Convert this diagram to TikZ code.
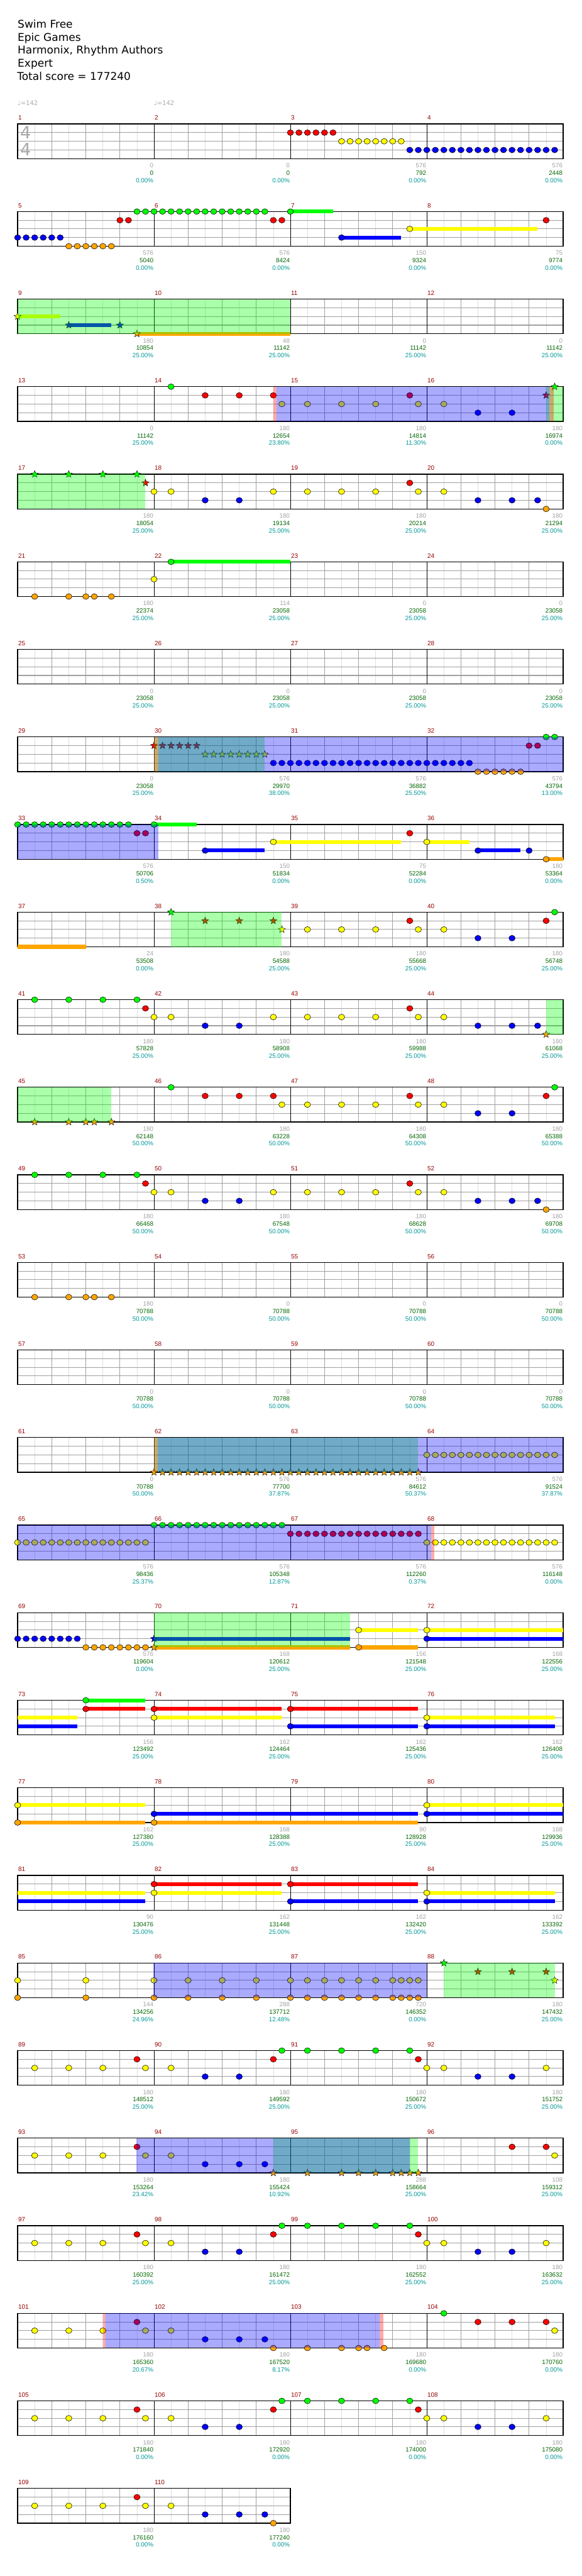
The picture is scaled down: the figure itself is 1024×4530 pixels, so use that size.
\documentclass[tikz,border=0pt]{standalone}
\usepackage{fontspec}
\setmainfont{DejaVu Sans}
\newfontfamily\smallfont{Liberation Sans}
\usetikzlibrary{shapes.geometric}

% lane colours: green, red, yellow, blue, orange
\definecolor{lane0}{RGB}{0,255,0}
\definecolor{lane1}{RGB}{255,0,0}
\definecolor{lane2}{RGB}{255,255,0}
\definecolor{lane3}{RGB}{0,0,255}
\definecolor{lane4}{RGB}{255,165,0}
\definecolor{gridgray}{RGB}{160,160,160}
\definecolor{gridlight}{RGB}{222,222,222}
\definecolor{barred}{RGB}{150,0,0}
\definecolor{statgray}{RGB}{160,160,160}
\definecolor{statgreen}{RGB}{0,100,0}
\definecolor{statteal}{RGB}{0,150,150}
\definecolor{tempogray}{RGB}{170,170,170}

\tikzset{
  halfline/.style={draw=gridlight, line width=0.8pt},
  beatline/.style={draw=gridgray, line width=0.9pt},
  laneline/.style={draw=gridgray, line width=1.2pt},
  barline/.style={draw=black, line width=0.8pt},
  staffbox/.style={draw=black, line width=1.4pt},
  notehead/.style={draw=black, line width=0.6pt},
  starhead/.style={star, star points=5, star point ratio=2.3, minimum size=13pt,
    inner sep=0pt, draw=black, line width=0.5pt},
  sustain/.style={line width=6.7pt},
  odfill/.style={fill=lane0, fill opacity=0.333},
  solofill/.style={fill=lane3, fill opacity=0.333},
  redfill/.style={fill=lane1, fill opacity=0.333},
  barnum/.style={font=\smallfont\fontsize{11}{13}\selectfont, text=barred,
    anchor=base west, inner sep=0pt, xshift=1pt, yshift=7pt},
  stat/.style={font=\smallfont\fontsize{10.8}{13}\selectfont, anchor=base east,
    inner sep=0pt, xshift=-1pt},
  titletext/.style={font=\fontsize{18.8}{23}\selectfont, anchor=base west, inner sep=0pt},
  tempo/.style={font=\fontsize{11}{13}\selectfont, text=tempogray, anchor=base west, inner sep=0pt},
  timesig/.style={font=\fontsize{30}{32}\selectfont, text=tempogray, inner sep=0pt},
}

% notes: position in sixteenths, lane 0..4
\newcommand\hit[2]{\draw[notehead, fill=lane#2] (#1,#2) ellipse[x radius=5.5pt, y radius=5pt];}
\newcommand\hits[2]{\foreach \q in {#1} {\hit{\q}{#2}}}
\newcommand\starhit[2]{\node[starhead, fill=lane#2] (st#1-#2) at (#1,#2) {};}
\newcommand\starhits[2]{\foreach \q in {#1} {\starhit{\q}{#2}}}
\newcommand\hold[3]{\draw[sustain, lane#3] (#1,#3) -- (#2,#3);}
\newcommand\holdhit[3]{\hold{#1}{#2}{#3}\hit{#1}{#3}}
\newcommand\holdstar[3]{\hold{#1}{#2}{#3}\starhit{#1}{#3}}
\newcommand\odzone[2]{\fill[odfill] (#1,0) rectangle (#2,4);}
\newcommand\solozone[2]{\fill[solofill] (#1,0) rectangle (#2,4);}
\newcommand\redzone[2]{\fill[redfill] (#1,0) rectangle (#2,4);}

% one line of the chart: row, measures, totals, notes
\newcommand\chartrow[4]{%
  \pgfmathsetmacro\rowy{-(218+154*(#1-1))}%
  \pgfmathtruncatemacro\roww{16*#2}%
  \begin{scope}[xshift=31pt, yshift=\rowy pt, x=15pt, y=-15.25pt]
    \foreach \q in {2,6,...,\roww} \draw[halfline] (\q,0) -- (\q,4);
    \foreach \q in {4,8,...,\roww} \draw[beatline] (\q,0) -- (\q,4);
    \foreach \l in {1,2,3} \draw[laneline] (0,\l) -- (\roww,\l);
    \foreach \q in {16,32,...,\roww} \draw[barline] (\q,0) -- (\q,4);
    \draw[staffbox] (0,0) rectangle (\roww,4);
    #4
    \foreach \a/\b/\c [count=\k] in {#3} {
      \pgfmathtruncatemacro\mn{4*(#1-1)+\k}
      \node[barnum] (bar\mn) at (16*\k-16,0) {\mn};
      \node[stat, text=statgray, yshift=-16pt] (mult\mn) at (16*\k,4) {\a};
      \node[stat, text=statgreen, yshift=-29pt] (score\mn) at (16*\k,4) {\b};
      \node[stat, text=statteal, yshift=-42pt] (pct\mn) at (16*\k,4) {\c};
    }
  \end{scope}}

\begin{document}
\begin{tikzpicture}[x=1pt, y=-1pt]
  \useasboundingbox (0,0) rectangle (1024,4530);

  % Header
  \node[titletext] (song) at (31,49) {Swim Free};
  \node[titletext] (artist) at (31,72) {Epic Games};
  \node[titletext] (charter) at (31,95) {Harmonix, Rhythm Authors};
  \node[titletext] (level) at (31,118) {Expert};
  \node[titletext] (total) at (30,141) {Total score = 177240};

  % Tempo marks
  \node[tempo] (bpm1) at (31,185) {♩=142};
  \node[tempo] (bpm2) at (271,185) {♩=142};

  % Measures 1-4
  \chartrow{1}{4}{0/0/0.00\%,0/0/0.00\%,576/792/0.00\%,576/2448/0.00\%}{
    \hits{32,...,37}{1} \hits{38,...,45}{2} \hits{46,...,63}{3}
  }
  \node[timesig] (sigtop) at (45,233) {4};
  \node[timesig] (sigbot) at (45,263) {4};

  % Measures 5-8
  \chartrow{2}{4}{576/5040/0.00\%,576/8424/0.00\%,150/9324/0.00\%,75/9774/0.00\%}{
    \hits{0,...,5}{3} \hits{6,...,11}{4} \hits{12,13,30,31,62}{1} \hits{14,...,29}{0}
    \holdhit{32}{37}{0} \holdhit{38}{45}{3} \holdhit{46}{61}{2}
  }

  % Measures 9-12
  \chartrow{3}{4}{180/10854/25.00\%,48/11142/25.00\%,0/11142/25.00\%,0/11142/25.00\%}{
    \holdstar{0}{5}{2} \holdstar{6}{11}{3} \starhit{12}{3} \holdstar{14}{32}{4}
    \odzone{0}{32}
  }

  % Measures 13-16
  \chartrow{4}{4}{0/11142/25.00\%,180/12654/23.80\%,180/14814/11.30\%,180/16974/0.00\%}{
    \hit{18}{0} \hits{22,26,30,46}{1} \hits{31,34,38,42,47,50}{2} \hits{54,58}{3}
    \starhit{62}{1} \starhit{63}{0}
    \odzone{62}{64} \redzone{30}{30.35} \redzone{62.4}{62.9} \solozone{30.35}{62.4}
  }

  % Measures 17-20
  \chartrow{5}{4}{180/18054/25.00\%,180/19134/25.00\%,180/20214/25.00\%,180/21294/25.00\%}{
    \starhits{2,6,10,14}{0} \starhit{15}{1}
    \hits{16,18,30,34,38,42,47,50}{2} \hits{22,26,54,58,61}{3} \hit{46}{1} \hit{62}{4}
    \odzone{0}{15}
  }

  % Measures 21-24
  \chartrow{6}{4}{180/22374/25.00\%,114/23058/25.00\%,0/23058/25.00\%,0/23058/25.00\%}{
    \hits{2,6,8,9,11}{4} \hit{16}{2} \holdhit{18}{32}{0}
  }

  % Measures 25-28
  \chartrow{7}{4}{0/23058/25.00\%,0/23058/25.00\%,0/23058/25.00\%,0/23058/25.00\%}{}

  % Measures 29-32
  \chartrow{8}{4}{0/23058/25.00\%,576/29970/38.00\%,576/36882/25.50\%,576/43794/13.00\%}{
    \starhits{16,...,21}{1} \starhits{22,...,29}{2}
    \hits{30,...,53}{3} \hits{54,...,59}{4} \hits{60,61}{1} \hits{62,63}{0}
    \odzone{16}{29} \redzone{16}{16.55} \solozone{16.55}{64}
  }

  % Measures 33-36
  \chartrow{9}{4}{576/50706/0.50\%,150/51834/0.00\%,75/52284/0.00\%,180/53364/0.00\%}{
    \hits{0,...,13}{0} \hits{14,15,46}{1}
    \holdhit{16}{21}{0} \holdhit{22}{29}{3} \holdhit{30}{45}{2} \holdhit{48}{53}{2}
    \holdhit{54}{59}{3} \hit{60}{3} \holdhit{62}{64}{4}
    \solozone{0}{16.55}
  }

  % Measures 37-40
  \chartrow{10}{4}{24/53508/0.00\%,180/54588/25.00\%,180/55668/25.00\%,180/56748/25.00\%}{
    \hold{0}{8}{4}
    \starhit{18}{0} \starhits{22,26,30}{1} \starhit{31}{2}
    \hits{34,38,42,47,50}{2} \hits{46,62}{1} \hits{54,58}{3} \hit{63}{0}
    \odzone{18}{31}
  }

  % Measures 41-44
  \chartrow{11}{4}{180/57828/25.00\%,180/58908/25.00\%,180/59988/25.00\%,180/61068/25.00\%}{
    \hits{2,6,10,14}{0} \hit{15}{1} \hits{16,18,30,34,38,42,47,50}{2}
    \hits{22,26,54,58,61}{3} \hit{46}{1} \starhit{62}{4}
    \odzone{62}{64}
  }

  % Measures 45-48
  \chartrow{12}{4}{180/62148/50.00\%,180/63228/50.00\%,180/64308/50.00\%,180/65388/50.00\%}{
    \starhits{2,6,8,9,11}{4}
    \hits{18,63}{0} \hits{22,26,30,46,62}{1} \hits{31,34,38,42,47,50}{2} \hits{54,58}{3}
    \odzone{0}{11}
  }

  % Measures 49-52
  \chartrow{13}{4}{180/66468/50.00\%,180/67548/50.00\%,180/68628/50.00\%,180/69708/50.00\%}{
    \hits{2,6,10,14}{0} \hit{15}{1} \hits{16,18,30,34,38,42,47,50}{2}
    \hits{22,26,54,58,61}{3} \hit{46}{1} \hit{62}{4}
  }

  % Measures 53-56
  \chartrow{14}{4}{180/70788/50.00\%,0/70788/50.00\%,0/70788/50.00\%,0/70788/50.00\%}{
    \hits{2,6,8,9,11}{4}
  }

  % Measures 57-60
  \chartrow{15}{4}{0/70788/50.00\%,0/70788/50.00\%,0/70788/50.00\%,0/70788/50.00\%}{}

  % Measures 61-64
  \chartrow{16}{4}{0/70788/50.00\%,576/77700/37.87\%,576/84612/50.37\%,576/91524/37.87\%}{
    \starhits{16,...,47}{4} \hits{48,...,63}{2}
    \odzone{16}{47} \redzone{16}{16.45} \solozone{16.45}{64}
  }

  % Measures 65-68
  \chartrow{17}{4}{576/98436/25.37\%,576/105348/12.87\%,576/112260/0.37\%,576/116148/0.00\%}{
    \hits{0,...,15}{2} \hits{16,...,31}{0} \hits{32,...,47}{1} \hits{48,...,63}{2}
    \solozone{0}{48.5} \redzone{48.5}{48.9}
  }

  % Measures 69-72
  \chartrow{18}{4}{576/119604/0.00\%,168/120612/25.00\%,156/121548/25.00\%,168/122556/25.00\%}{
    \hits{0,...,7}{3} \hits{8,...,15}{4}
    \holdstar{16}{39}{3} \holdstar{16}{39}{4}
    \holdhit{40}{47}{2} \holdhit{40}{47}{4} \holdhit{48}{64}{2} \holdhit{48}{64}{3}
    \odzone{16}{39}
  }

  % Measures 73-76
  \chartrow{19}{4}{156/123492/25.00\%,162/124464/25.00\%,162/125436/25.00\%,162/126408/25.00\%}{
    \hold{0}{7}{2} \hold{0}{7}{3}
    \holdhit{8}{15}{0} \holdhit{8}{15}{1} \holdhit{16}{31}{1} \holdhit{16}{31}{2}
    \holdhit{32}{47}{1} \holdhit{32}{47}{3} \holdhit{48}{63}{2} \holdhit{48}{63}{3}
  }

  % Measures 77-80
  \chartrow{20}{4}{162/127380/25.00\%,168/128388/25.00\%,90/128928/25.00\%,168/129936/25.00\%}{
    \holdhit{0}{15}{2} \holdhit{0}{15}{4} \holdhit{16}{47}{3} \holdhit{16}{47}{4}
    \holdhit{48}{64}{2} \holdhit{48}{64}{3}
  }

  % Measures 81-84
  \chartrow{21}{4}{90/130476/25.00\%,162/131448/25.00\%,162/132420/25.00\%,162/133392/25.00\%}{
    \hold{0}{15}{2} \hold{0}{15}{3}
    \holdhit{16}{31}{1} \holdhit{16}{31}{2} \holdhit{32}{47}{1} \holdhit{32}{47}{3}
    \holdhit{48}{63}{2} \holdhit{48}{63}{3}
  }

  % Measures 85-88
  \chartrow{22}{4}{144/134256/24.96\%,288/137712/12.48\%,720/146352/0.00\%,180/147432/25.00\%}{
    \hits{0,8,16,20,24,28,32,34,36,38,40,42,44,45,46,47}{2}
    \hits{0,8,16,20,24,28,32,34,36,38,40,42,44,45,46,47}{4}
    \starhit{50}{0} \starhits{54,58,62}{1} \starhit{63}{2}
    \odzone{50}{63} \solozone{15.9}{48}
  }

  % Measures 89-92
  \chartrow{23}{4}{180/148512/25.00\%,180/149592/25.00\%,180/150672/25.00\%,180/151752/25.00\%}{
    \hits{2,6,10,15,18,48,50,62}{2} \hits{14,30,47}{1} \hits{22,26,54,58}{3}
    \hits{31,34,38,42,46}{0}
  }

  % Measures 93-96
  \chartrow{24}{4}{180/153264/23.42\%,180/155424/10.92\%,288/158664/25.00\%,108/159312/25.00\%}{
    \hits{2,6,10,15,18,63}{2} \hits{14,58,62}{1} \hits{22,26,29}{3}
    \starhits{30,34,38,40,42,44,45,46,47}{4}
    \odzone{30}{47} \solozone{13.9}{46}
  }

  % Measures 97-100
  \chartrow{25}{4}{180/160392/25.00\%,180/161472/25.00\%,180/162552/25.00\%,180/163632/25.00\%}{
    \hits{2,6,10,15,18,48,50,62}{2} \hits{14,30,47}{1} \hits{22,26,54,58}{3}
    \hits{31,34,38,42,46}{0}
  }

  % Measures 101-104
  \chartrow{26}{4}{180/165360/20.67\%,180/167520/8.17\%,180/169680/0.00\%,180/170760/0.00\%}{
    \hits{2,6,10,15,18,63}{2} \hits{14,54,58,62}{1} \hits{22,26,29}{3}
    \hits{30,34,38,40,41,43}{4} \hit{50}{0}
    \redzone{10}{10.35} \redzone{42.5}{42.9} \solozone{10.35}{42.5}
  }

  % Measures 105-108
  \chartrow{27}{4}{180/171840/0.00\%,180/172920/0.00\%,180/174000/0.00\%,180/175080/0.00\%}{
    \hits{2,6,10,15,18,48,50,62}{2} \hits{14,30,47}{1} \hits{22,26,54,58}{3}
    \hits{31,34,38,42,46}{0}
  }

  % Measures 109-110
  \chartrow{28}{2}{180/176160/0.00\%,180/177240/0.00\%}{
    \hits{2,6,10,15,18}{2} \hit{14}{1} \hits{22,26,29}{3} \hit{30}{4}
  }

\end{tikzpicture}
\end{document}
